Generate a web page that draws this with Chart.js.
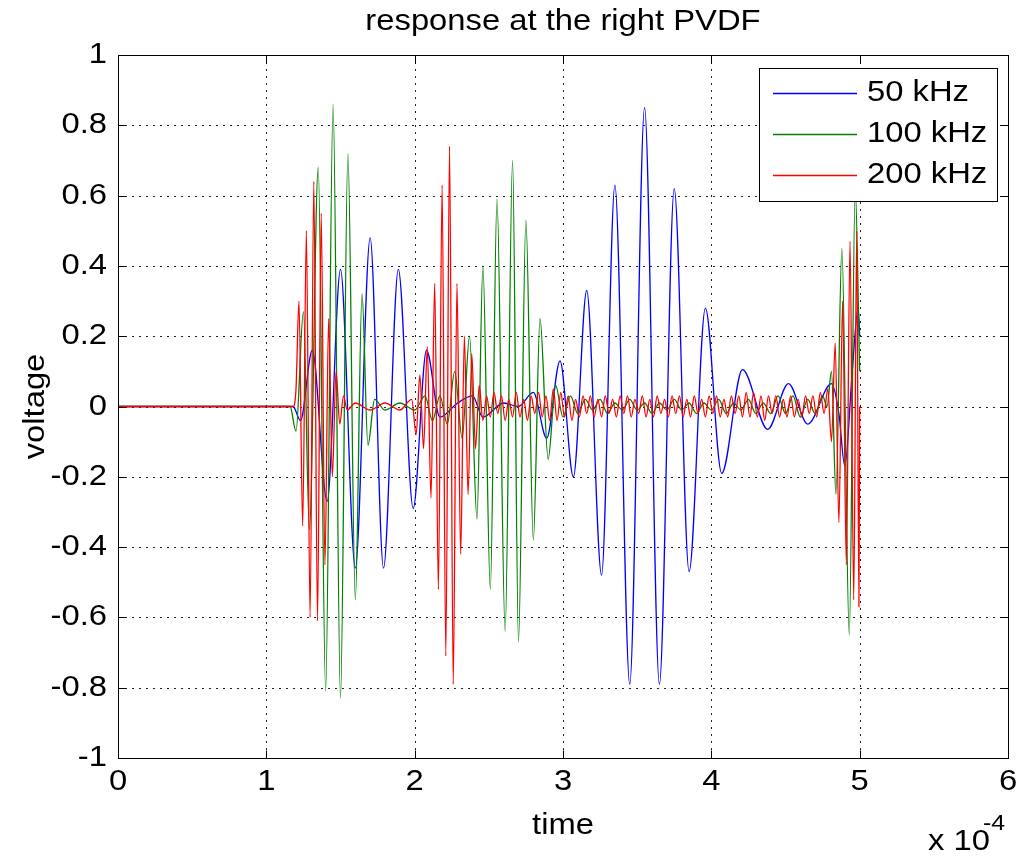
<!DOCTYPE html>
<html>
<head>
<meta charset="utf-8">
<script src="https://cdn.jsdelivr.net/npm/chart.js@4.4.1/dist/chart.umd.min.js"></script>
<style>
  body { margin: 0; background: #fff; }
  canvas { display: block; }
</style>
</head>
<body>
<canvas id="chart" width="1023" height="857"></canvas>
<script>
// time in units of 1e-4 s, voltage
const seriesNames = ['50 kHz', '100 kHz', '200 kHz'];
const seriesColors = ['#0000ff', '#008000', '#ff0000'];

const xTicks = [0, 1, 2, 3, 4, 5, 6];
const yTicks = [-1, -0.8, -0.6, -0.4, -0.2, 0, 0.2, 0.4, 0.6, 0.8, 1];
const yTickLabels = ['-1', '-0.8', '-0.6', '-0.4', '-0.2', '0', '0.2', '0.4', '0.6', '0.8', '1'];

const blue50 = [
  [0, 0], [1.18, 0], [1.23, -0.04], [1.31, 0.16], [1.41, -0.27], [1.50, 0.39],
  [1.60, -0.46], [1.70, 0.48], [1.79, -0.46], [1.89, 0.39], [1.99, -0.29],
  [2.08, 0.16], [2.17, -0.03], [2.29, 0.01], [2.39, 0.03], [2.46, -0.03],
  [2.60, 0.01], [2.70, 0.0], [2.80, 0.04], [2.89, -0.09], [2.98, 0.13],
  [3.07, -0.20], [3.16, 0.33], [3.26, -0.48], [3.35, 0.63], [3.45, -0.79],
  [3.55, 0.85], [3.65, -0.79], [3.75, 0.62], [3.85, -0.47], [3.96, 0.28],
  [4.07, -0.19], [4.21, 0.105], [4.38, -0.065], [4.52, 0.065], [4.65, -0.05],
  [4.81, 0.065], [4.86, -0.02], [4.90, -0.17], [4.95, 0.10], [4.99, 0.28], [5.0, 0.2]
];

const green100 = [
  [0, 0], [1.16, 0], [1.20, -0.07], [1.25, 0.27], [1.29, -0.35], [1.35, 0.68],
  [1.40, -0.81], [1.45, 0.86], [1.50, -0.83], [1.55, 0.72], [1.60, -0.55],
  [1.645, 0.32], [1.685, -0.11], [1.73, 0.02], [1.80, -0.01], [1.90, 0.01],
  [2.0, -0.01], [2.07, 0.03], [2.12, -0.04], [2.17, 0.03], [2.22, -0.05],
  [2.27, 0.10], [2.32, -0.09], [2.37, 0.20], [2.42, -0.32], [2.46, 0.40],
  [2.51, -0.52], [2.555, 0.59], [2.61, -0.64], [2.66, 0.70], [2.70, -0.67],
  [2.75, 0.53], [2.80, -0.38], [2.845, 0.25], [2.90, -0.15], [2.95, 0.06],
  [3.0, -0.03], [3.05, 0.03], [3.1, -0.02], [3.15, 0.02], [3.2, -0.01],
  [3.25, 0.02], [3.3, -0.02], [3.35, 0.01], [3.4, -0.01], [3.45, 0.02],
  [3.5, -0.01], [3.55, 0.01], [3.6, -0.02], [3.65, 0.01], [3.7, -0.01],
  [3.75, 0.02], [3.8, -0.01], [3.85, 0.01], [3.9, -0.02], [3.95, 0.01],
  [4.0, -0.01], [4.05, 0.02], [4.1, -0.02], [4.15, 0.01], [4.2, -0.01],
  [4.25, 0.02], [4.3, -0.02], [4.35, 0.01], [4.4, -0.02], [4.45, 0.03],
  [4.5, -0.02], [4.55, 0.03], [4.6, -0.03], [4.65, 0.02], [4.7, -0.02],
  [4.75, 0.03], [4.78, 0.0], [4.81, 0.10], [4.84, -0.25], [4.88, 0.45],
  [4.93, -0.65], [4.97, 0.62], [5.0, 0.1]
];

const red200 = [
  [0, 0], [1.18, 0], [1.20, 0.05], [1.22, 0.30], [1.245, -0.34], [1.27, 0.50],
  [1.295, -0.60], [1.32, 0.64], [1.345, -0.61], [1.37, 0.55], [1.395, -0.45],
  [1.42, 0.25], [1.445, -0.20], [1.47, 0.10], [1.495, -0.05], [1.52, 0.03],
  [1.545, -0.01], [1.6, 0.01], [1.7, -0.01], [1.8, 0.01], [1.9, -0.01],
  [1.98, 0.02], [2.01, -0.08], [2.035, 0.09], [2.06, -0.12], [2.085, 0.17],
  [2.11, -0.26], [2.135, 0.35], [2.16, -0.52], [2.185, 0.63], [2.21, -0.71],
  [2.235, 0.74], [2.26, -0.79], [2.285, 0.35], [2.31, -0.42], [2.335, 0.20],
  [2.36, -0.25], [2.385, 0.15], [2.41, -0.12], [2.435, 0.06], [2.46, -0.04],
  [2.485, 0.03], [2.51, -0.03], [2.535, 0.04], [2.56, -0.02], [2.585, 0.03],
  [2.61, -0.04], [2.635, 0.02], [2.66, -0.03], [2.685, 0.04], [2.71, -0.03],
  [2.735, 0.02], [2.76, -0.04], [2.785, 0.03], [2.81, -0.02], [2.835, 0.04],
  [2.86, -0.03], [2.885, 0.03], [2.91, -0.04], [2.935, 0.05], [2.96, -0.04],
  [2.985, 0.04], [3.01, -0.03], [3.035, 0.03], [3.06, -0.04], [3.085, 0.02],
  [3.11, -0.03], [3.135, 0.03], [3.16, -0.02], [3.185, 0.03], [3.21, -0.03],
  [3.235, 0.02], [3.26, -0.03], [3.285, 0.03], [3.31, -0.02], [3.335, 0.02],
  [3.36, -0.03], [3.385, 0.03], [3.41, -0.02], [3.435, 0.03], [3.46, -0.03],
  [3.485, 0.02], [3.51, -0.02], [3.535, 0.03], [3.56, -0.03], [3.585, 0.02],
  [3.61, -0.03], [3.635, 0.03], [3.66, -0.02], [3.685, 0.02], [3.71, -0.03],
  [3.735, 0.03], [3.76, -0.02], [3.785, 0.03], [3.81, -0.03], [3.835, 0.02],
  [3.86, -0.03], [3.885, 0.03], [3.91, -0.02], [3.935, 0.02], [3.96, -0.03],
  [3.985, 0.03], [4.01, -0.02], [4.035, 0.03], [4.06, -0.03], [4.085, 0.02],
  [4.11, -0.03], [4.135, 0.03], [4.16, -0.02], [4.185, 0.03], [4.21, -0.03],
  [4.235, 0.04], [4.26, -0.03], [4.285, 0.04], [4.31, -0.03], [4.335, 0.03],
  [4.36, -0.04], [4.385, 0.03], [4.41, -0.02], [4.435, 0.03], [4.46, -0.03],
  [4.485, 0.02], [4.51, -0.03], [4.535, 0.03], [4.56, -0.03], [4.585, 0.02],
  [4.61, -0.03], [4.635, 0.03], [4.66, -0.02], [4.685, 0.03], [4.71, -0.03],
  [4.735, 0.04], [4.76, -0.02], [4.785, 0.05], [4.81, -0.10], [4.835, 0.18],
  [4.86, -0.33], [4.885, 0.30], [4.91, -0.45], [4.935, 0.47], [4.96, -0.55],
  [4.98, 0.50], [4.995, -0.57], [5.0, 0.0]
];

const FONT = '"Liberation Sans", Arial, sans-serif';
const SX = 1.13; // text looks a bit wider than plain Arial

function txt(ctx, s, x, y, align, size) {
  ctx.save();
  ctx.font = size + 'px ' + FONT;
  ctx.textBaseline = 'middle';
  ctx.textAlign = 'left';
  const w = ctx.measureText(s).width * SX;
  const x0 = align === 'right' ? x - w : align === 'center' ? x - w / 2 : x;
  ctx.translate(x0, y);
  ctx.scale(SX, 1);
  ctx.fillStyle = '#000';
  ctx.fillText(s, 0, 0);
  ctx.restore();
}

const matlabAxes = {
  id: 'matlabAxes',
  beforeDatasetsDraw(chart) {
    const { ctx, chartArea: a, scales: { x, y } } = chart;
    ctx.save();
    ctx.strokeStyle = '#222';
    ctx.lineWidth = 1;
    ctx.setLineDash([2, 5]);
    xTicks.forEach(t => {
      const px = Math.round(x.getPixelForValue(t)) + 0.5;
      if (t === xTicks[0] || t === xTicks[xTicks.length - 1]) return;
      ctx.beginPath(); ctx.moveTo(px, a.top); ctx.lineTo(px, a.bottom); ctx.stroke();
    });
    yTicks.forEach(v => {
      const py = Math.round(y.getPixelForValue(v)) + 0.5;
      if (v === yTicks[0] || v === yTicks[yTicks.length - 1]) return;
      ctx.beginPath(); ctx.moveTo(a.left, py); ctx.lineTo(a.right, py); ctx.stroke();
    });
    ctx.restore();
  },
  afterDatasetsDraw(chart) {
    const { ctx, chartArea: a, scales: { x, y } } = chart;
    const L = Math.round(a.left) + 0.5, R = Math.round(a.right) + 0.5;
    const T = Math.round(a.top) + 0.5, B = Math.round(a.bottom) + 0.5;
    ctx.save();
    ctx.strokeStyle = '#000';
    ctx.lineWidth = 1;
    ctx.strokeRect(L, T, R - L, B - T);
    const tl = 8;
    ctx.beginPath();
    xTicks.forEach(t => {
      const px = Math.round(x.getPixelForValue(t)) + 0.5;
      ctx.moveTo(px, B); ctx.lineTo(px, B - tl);
      ctx.moveTo(px, T); ctx.lineTo(px, T + tl);
    });
    yTicks.forEach(v => {
      const py = Math.round(y.getPixelForValue(v)) + 0.5;
      ctx.moveTo(L, py); ctx.lineTo(L + tl, py);
      ctx.moveTo(R, py); ctx.lineTo(R - tl, py);
    });
    ctx.stroke();

    // tick labels
    xTicks.forEach(t => txt(ctx, String(t), x.getPixelForValue(t), a.bottom + 24, 'center', 29));
    yTicks.forEach((v, i) => txt(ctx, yTickLabels[i], a.left - 11, y.getPixelForValue(v), 'right', 29));

    // title and axis labels
    const cx = (a.left + a.right) / 2;
    txt(ctx, 'response at the right PVDF', cx, 22, 'center', 29);
    txt(ctx, 'time', cx, 826, 'center', 29);
    ctx.save();
    ctx.translate(36, (a.top + a.bottom) / 2);
    ctx.rotate(-Math.PI / 2);
    txt(ctx, 'voltage', 0, 0, 'center', 29);
    ctx.restore();
    txt(ctx, 'x 10', 928, 842, 'left', 29);
    txt(ctx, '-4', 983, 824, 'left', 22);

    // legend
    const lx = 759.5, ly = 68.5, lw = 238, lh = 133;
    ctx.fillStyle = '#fff';
    ctx.fillRect(lx, ly, lw, lh);
    ctx.strokeStyle = '#000';
    ctx.strokeRect(lx, ly, lw, lh);
    const rows = [93, 134, 175];
    seriesNames.forEach((name, i) => {
      ctx.strokeStyle = seriesColors[i];
      ctx.lineWidth = 1.3;
      ctx.beginPath(); ctx.moveTo(773, rows[i] + 0.5); ctx.lineTo(857, rows[i] + 0.5); ctx.stroke();
      txt(ctx, name, 867, rows[i], 'left', 29);
    });
    ctx.restore();
  }
};

const toXY = arr => arr.map(p => ({ x: p[0], y: p[1] }));
const allSeries = [blue50, green100, red200];

new Chart(document.getElementById('chart'), {
  type: 'line',
  data: {
    datasets: allSeries.map((s, i) => ({
      label: seriesNames[i],
      data: toXY(s),
      borderColor: seriesColors[i],
      borderWidth: 1.3,
      pointRadius: 0,
      cubicInterpolationMode: 'monotone',
      order: 2 - i
    }))
  },
  options: {
    responsive: false,
    animation: false,
    layout: { padding: { left: 118, right: 15, top: 55, bottom: 99 } },
    plugins: { legend: { display: false }, title: { display: false }, tooltip: { enabled: false } },
    scales: {
      x: { type: 'linear', min: 0, max: 6, display: false },
      y: { type: 'linear', min: -1, max: 1, display: false }
    }
  },
  plugins: [matlabAxes]
});
</script>
</body>
</html>
